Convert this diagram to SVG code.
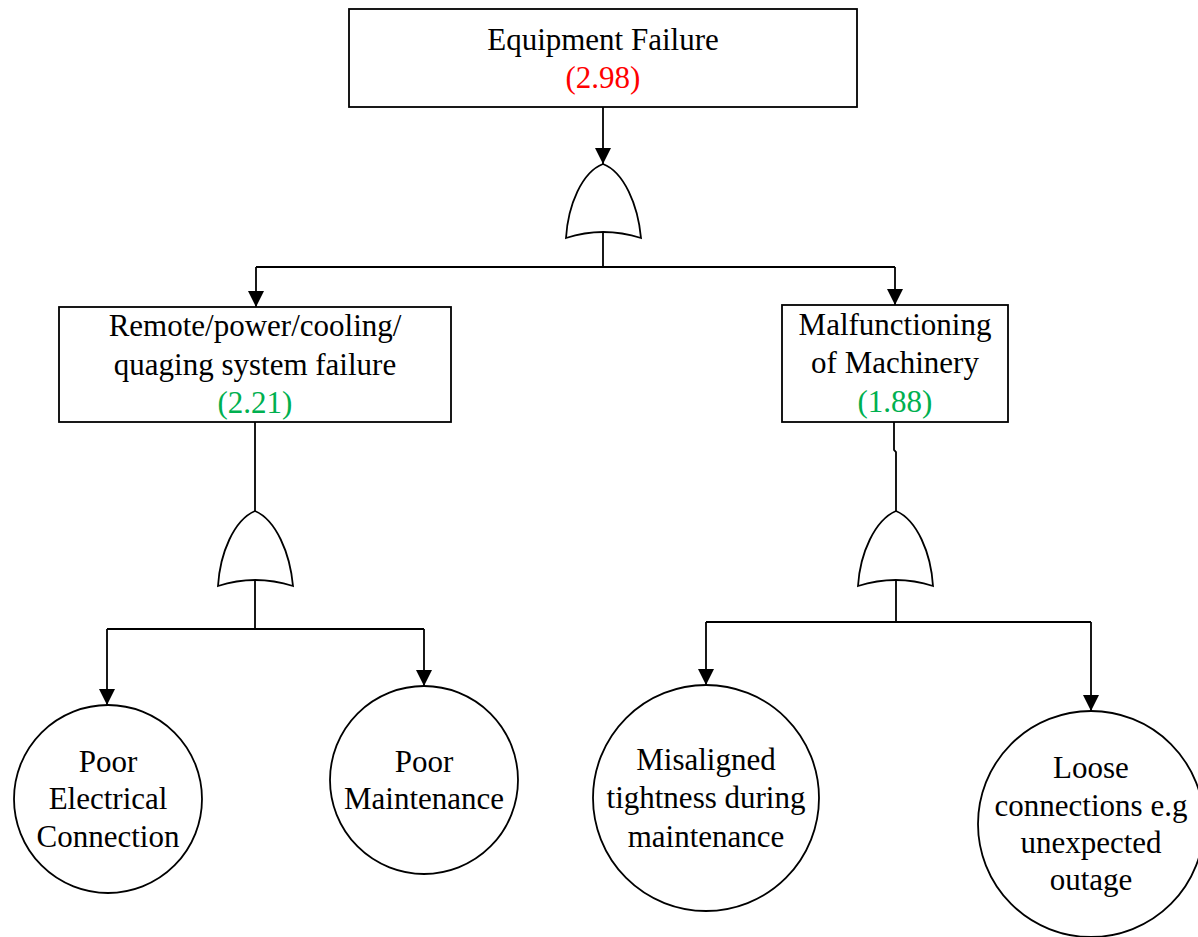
<svg xmlns="http://www.w3.org/2000/svg" width="1198" height="937" viewBox="0 0 1198 937">
  <style>
    .box { fill: #fff; stroke: #000; stroke-width: 1.8; }
    .gate { fill: #fff; stroke: #000; stroke-width: 1.8; stroke-linejoin: miter; }
    .evt { fill: #fff; stroke: #000; stroke-width: 1.8; }
    .wire { fill: none; stroke: #000; stroke-width: 1.8; }
    .arr { marker-end: url(#ah); }
    text { font-family: "Liberation Serif", "Times New Roman", serif; font-size: 31px; fill: #000; text-anchor: middle; }
    .red { fill: #FF0000; }
    .green { fill: #00B050; }
  </style>
  <defs>
    <marker id="ah" markerUnits="userSpaceOnUse" markerWidth="17" markerHeight="17" refX="16" refY="8" orient="auto">
      <path d="M0,0 L16,8 L0,16 Z" fill="#000"/>
    </marker>
  </defs>
  <rect width="1198" height="937" fill="#fff"/>

  <g id="connectors">
    <line class="wire arr" x1="603" y1="107" x2="603" y2="164"/>
    <line class="wire" x1="603" y1="232" x2="603" y2="267"/>
    <polyline class="wire" points="256,267 895,267"/>
    <line class="wire arr" x1="256" y1="267" x2="256" y2="307"/>
    <line class="wire arr" x1="895" y1="267" x2="895" y2="305"/>

    <line class="wire" x1="255" y1="422" x2="255" y2="511"/>
    <line class="wire" x1="255" y1="578" x2="255" y2="629"/>
    <polyline class="wire" points="107,629 424,629"/>
    <line class="wire arr" x1="107" y1="629" x2="107" y2="705"/>
    <line class="wire arr" x1="424" y1="629" x2="424" y2="686"/>

    <polyline class="wire" points="894,422 894,450 896,452 896,511"/>
    <line class="wire" x1="896" y1="578" x2="896" y2="622"/>
    <polyline class="wire" points="706,622 1091,622"/>
    <line class="wire arr" x1="706" y1="622" x2="706" y2="685"/>
    <line class="wire arr" x1="1091" y1="622" x2="1091" y2="711"/>
  </g>

  <g id="top-event">
    <rect class="box" x="349" y="9" width="508" height="98"/>
    <text x="603" y="50">Equipment Failure</text>
    <text class="red" x="603" y="88">(2.98)</text>
  </g>

  <g id="gate-top">
    <path class="gate" d="M566,238 C568,205 582,172 603,164 C624,172 638,205 641,238 Q603,226 566,238 Z"/>
  </g>

  <g id="remote-failure">
    <rect class="box" x="59" y="307" width="392" height="115"/>
    <text x="255" y="336">Remote/power/cooling/</text>
    <text x="255" y="375">quaging system failure</text>
    <text class="green" x="255" y="413">(2.21)</text>
  </g>

  <g id="machinery">
    <rect class="box" x="782" y="305" width="226" height="117"/>
    <text x="895" y="335">Malfunctioning</text>
    <text x="895" y="373">of Machinery</text>
    <text class="green" x="895" y="412">(1.88)</text>
  </g>

  <g id="gate-left">
    <path class="gate" d="M218,586 C220,553 234,520 255,511 C276,520 290,553 293,586 Q255,574 218,586 Z"/>
  </g>

  <g id="gate-right">
    <path class="gate" d="M858,586 C860,553 875,520 896,511 C917,520 931,553 933,586 Q896,574 858,586 Z"/>
  </g>

  <g id="poor-electrical">
    <circle class="evt" cx="108" cy="799" r="94"/>
    <text x="108" y="772">Poor</text>
    <text x="108" y="809">Electrical</text>
    <text x="108" y="847">Connection</text>
  </g>

  <g id="poor-maintenance">
    <circle class="evt" cx="424" cy="780" r="94"/>
    <text x="424" y="772">Poor</text>
    <text x="424" y="809">Maintenance</text>
  </g>

  <g id="misaligned">
    <circle class="evt" cx="706" cy="798" r="113"/>
    <text x="706" y="770">Misaligned</text>
    <text x="706" y="808">tightness during</text>
    <text x="706" y="847">maintenance</text>
  </g>

  <g id="loose-connections">
    <circle class="evt" cx="1091" cy="824" r="113"/>
    <text x="1091" y="778">Loose</text>
    <text x="1091" y="816">connections e.g</text>
    <text x="1091" y="853">unexpected</text>
    <text x="1091" y="890">outage</text>
  </g>
</svg>
